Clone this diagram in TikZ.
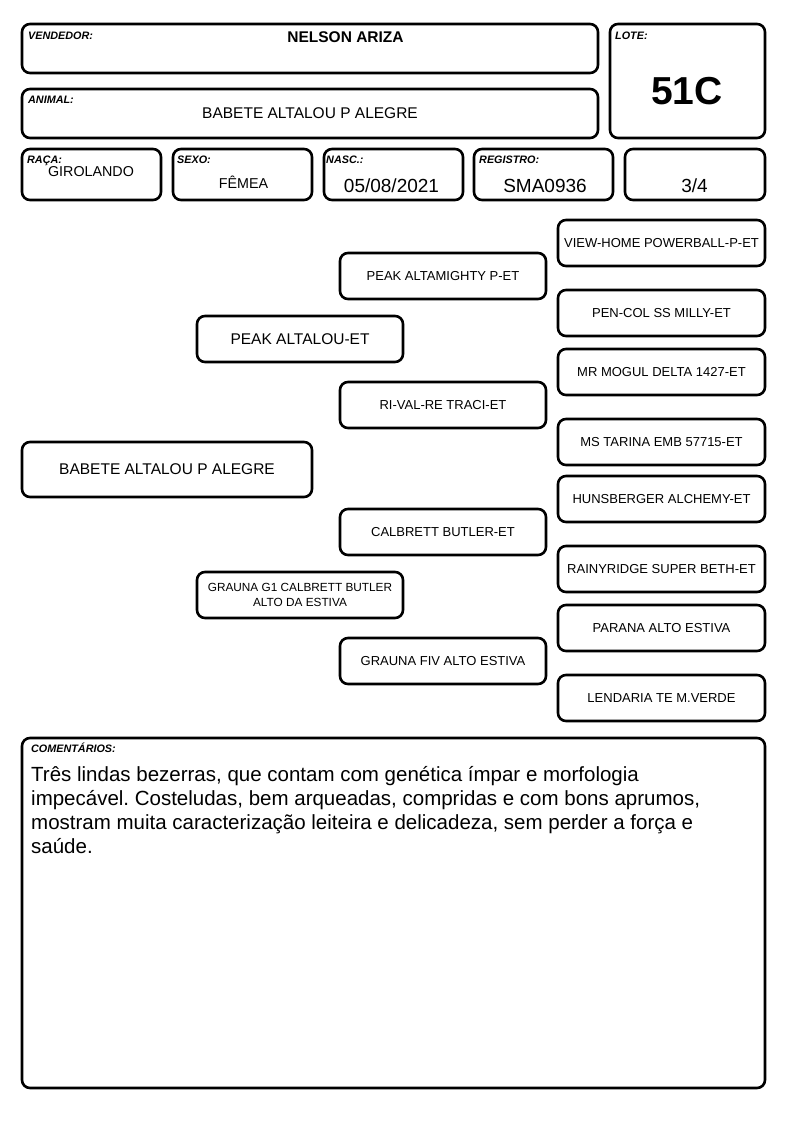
\documentclass[tikz,border=0pt]{standalone}
\usepackage{fontspec}
\setmainfont{Liberation Sans}
\frenchspacing
\begin{document}
\begin{tikzpicture}[x=1pt,y=-1pt,
  box/.style={draw, line width=2.6pt, rounded corners=8pt, inner sep=0pt},
  lab/.style={font=\fontsize{10.8}{12}\selectfont\bfseries\itshape, anchor=base west, inner sep=0pt},
  val/.style={anchor=base, inner sep=0pt},
  ped/.style={box, minimum width=206pt, minimum height=46pt, align=center, font=\fontsize{13}{15}\selectfont},
  pedr/.style={box, minimum width=207pt, minimum height=46pt, align=center, font=\fontsize{13}{15}\selectfont}]
\useasboundingbox (0,0) rectangle (794,1123);
% header boxes
\node[box, minimum width=576pt, minimum height=49pt] (vend) at (310,48.5) {};
\node[box, minimum width=576pt, minimum height=49pt] (anim) at (310,113.5) {};
\node[box, minimum width=155pt, minimum height=114pt] (lote) at (687.5,81) {};
\node[lab] (lvend) at (28,39.5) {VENDEDOR:};
\node[lab] (lanim) at (28,103.5) {ANIMAL:};
\node[lab] (llote) at (615,39.5) {LOTE:};
\node[val, font=\fontsize{15.5}{18}\selectfont\bfseries] (tvend) at (345.5,42.5) {NELSON ARIZA};
\node[val, font=\fontsize{15.5}{18}\selectfont] (tanim) at (310,118.5) {BABETE ALTALOU P ALEGRE};
\node[val, font=\fontsize{39}{44}\selectfont\bfseries] (tlote) at (687,105) {51C};
% row 3
\node[box, minimum width=139pt, minimum height=51pt] (raca) at (91.5,174.5) {};
\node[box, minimum width=139pt, minimum height=51pt] (sexo) at (242.5,174.5) {};
\node[box, minimum width=139pt, minimum height=51pt] (nasc) at (393.5,174.5) {};
\node[box, minimum width=139pt, minimum height=51pt] (regi) at (543.5,174.5) {};
\node[box, minimum width=140pt, minimum height=51pt] (frac) at (695,174.5) {};
\node[lab] (lraca) at (27,163.5) {RAÇA:};
\node[lab] (lsexo) at (177,163.5) {SEXO:};
\node[lab] (lnasc) at (326,163.5) {NASC.:};
\node[lab] (lregi) at (479,163.5) {REGISTRO:};
\node[val, font=\fontsize{14.3}{16}\selectfont] (traca) at (91,177) {GIROLANDO};
\node[val, font=\fontsize{14.3}{16}\selectfont] (tsexo) at (243.5,189) {FÊMEA};
\node[val, font=\fontsize{19}{22}\selectfont] (tnasc) at (391.5,193) {05/08/2021};
\node[val, font=\fontsize{19}{22}\selectfont] (tregi) at (545,193) {SMA0936};
\node[val, font=\fontsize{19}{22}\selectfont] (tfrac) at (694.5,193) {3/4};
% pedigree
\node[box, minimum width=290pt, minimum height=55pt, font=\fontsize{15.5}{18}\selectfont] (p0) at (167,469.5) {BABETE ALTALOU P ALEGRE};
\node[ped, font=\fontsize{15.5}{18}\selectfont] (p1) at (300,339) {PEAK ALTALOU-ET};
\node[ped, font=\fontsize{11.8}{15}\selectfont] (p2) at (300,595) {GRAUNA G1 CALBRETT BUTLER\\ALTO DA ESTIVA};
\node[ped] (p11) at (443,276) {PEAK ALTAMIGHTY P-ET};
\node[ped] (p12) at (443,405) {RI-VAL-RE TRACI-ET};
\node[ped] (p21) at (443,532) {CALBRETT BUTLER-ET};
\node[ped] (p22) at (443,661) {GRAUNA FIV ALTO ESTIVA};
\node[pedr] (p111) at (661.5,243) {VIEW-HOME POWERBALL-P-ET};
\node[pedr] (p112) at (661.5,313) {PEN-COL SS MILLY-ET};
\node[pedr] (p121) at (661.5,372) {MR MOGUL DELTA 1427-ET};
\node[pedr] (p122) at (661.5,442) {MS TARINA EMB 57715-ET};
\node[pedr] (p211) at (661.5,499) {HUNSBERGER ALCHEMY-ET};
\node[pedr] (p212) at (661.5,569) {RAINYRIDGE SUPER BETH-ET};
\node[pedr] (p221) at (661.5,628) {PARANA ALTO ESTIVA};
\node[pedr] (p222) at (661.5,698) {LENDARIA TE M.VERDE};
% comments
\node[box, minimum width=743pt, minimum height=350pt] (com) at (393.5,913) {};
\node[lab] (lcom) at (31,752) {COMENTÁRIOS:};
\node[anchor=base west, inner sep=0pt, align=left, font=\fontsize{20.5}{24}\selectfont] (tcom) at (31,853) {Três lindas bezerras, que contam com genética ímpar e morfologia\\impecável. Costeludas, bem arqueadas, compridas e com bons aprumos,\\mostram muita caracterização leiteira e delicadeza, sem perder a força e\\saúde.};
\end{tikzpicture}
\end{document}
